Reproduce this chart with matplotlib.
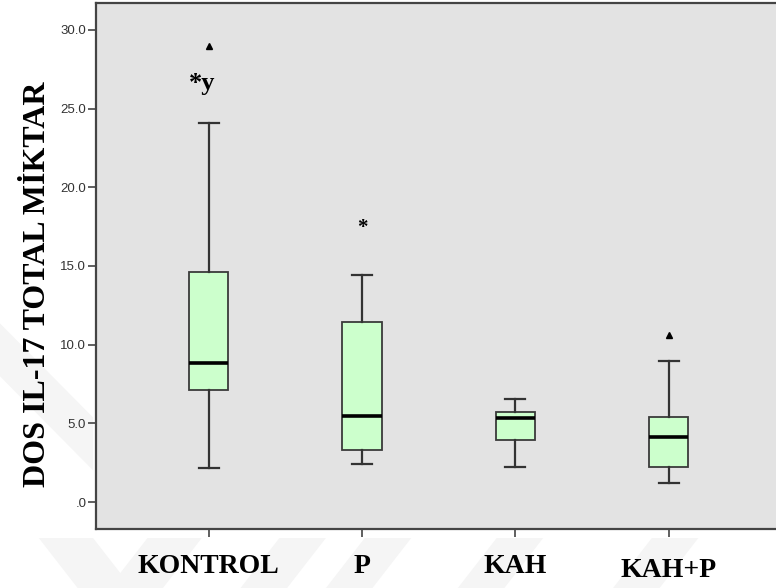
import matplotlib
matplotlib.use("Agg")
import matplotlib.pyplot as plt
from matplotlib.patches import Polygon

# ---- data ----
groups = ["KONTROL", "P", "KAH", "KAH+P"]
whisker_low = [2.2, 2.4, 2.25, 1.25]
q1 = [7.1, 3.3, 3.95, 2.25]
median = [8.85, 5.5, 5.35, 4.15]
q3 = [14.6, 11.45, 5.7, 5.4]
whisker_high = [24.1, 14.4, 6.55, 8.95]
outliers = [[28.95], [], [], [10.6]]
annotations = ["*y", "*", "", ""]
annotation_values = [26.6, 17.4, None, None]
yticks = [0, 5, 10, 15, 20, 25, 30]
ytick_labels = [".0", "5.0", "10.0", "15.0", "20.0", "25.0", "30.0"]
ylabel = "DOS IL-17 TOTAL MİKTAR"

fig = plt.figure(figsize=(7.76, 5.88), dpi=100)
fig.patch.set_facecolor("white")

# faint watermark stripes
wm = "#f5f5f5"
for pts in [
    [(0.00, 0.45), (0.00, 0.36), (0.12, 0.20), (0.12, 0.29)],
    [(0.05, 0.085), (0.12, 0.085), (0.17, 0.0), (0.10, 0.0)],
    [(0.19, 0.085), (0.26, 0.085), (0.21, 0.0), (0.14, 0.0)],
    [(0.36, 0.085), (0.42, 0.085), (0.37, 0.0), (0.31, 0.0)],
    [(0.47, 0.085), (0.53, 0.085), (0.48, 0.0), (0.42, 0.0)],
    [(0.64, 0.085), (0.70, 0.085), (0.65, 0.0), (0.59, 0.0)],
    [(0.84, 0.085), (0.90, 0.085), (0.85, 0.0), (0.79, 0.0)],
]:
    fig.add_artist(Polygon(pts, closed=True, transform=fig.transFigure,
                           facecolor=wm, edgecolor="none", zorder=0))

ax = fig.add_axes([96 / 776, 59 / 588, 1 - 96 / 776 + 0.01, 526 / 588])
ax.set_facecolor("#e3e3e3")

stats = []
for i, g in enumerate(groups):
    stats.append(dict(label=g, whislo=whisker_low[i], q1=q1[i], med=median[i],
                      q3=q3[i], whishi=whisker_high[i], fliers=outliers[i]))

positions = list(range(len(groups)))
ax.bxp(stats, positions=positions, widths=0.255, capwidths=0.13,
       patch_artist=True, showfliers=True,
       boxprops=dict(facecolor="#ccffcc", edgecolor="#3a3a3a", linewidth=1.3),
       medianprops=dict(color="black", linewidth=2.6),
       whiskerprops=dict(color="#333333", linewidth=1.6),
       capprops=dict(color="#333333", linewidth=1.6),
       flierprops=dict(marker="^", markerfacecolor="black", markeredgecolor="black",
                       markersize=4.5, linestyle="none"))

for i, (txt, v) in enumerate(zip(annotations, annotation_values)):
    if txt:
        size = 19 if len(txt) > 1 else 15
        ax.text(positions[i] - (0.04 if len(txt) > 1 else 0), v, txt,
                ha="center", va="center", fontsize=size,
                family="Liberation Serif", fontweight="bold", color="black")

ax.set_xlim(-0.734, 3.75)
ax.set_ylim(-1.7, 31.7)
ax.set_yticks(yticks)
ax.set_yticklabels(ytick_labels, family="Liberation Sans", fontsize=9.5, color="#333333")
ax.set_xticks(positions)
ax.set_xticklabels(groups, family="Liberation Serif", fontweight="bold", fontsize=20)
ax.tick_params(axis="y", length=6, width=1.2, color="#444444", pad=1)
ax.tick_params(axis="x", length=6, width=1.2, color="#444444", pad=12)
for lbl in ax.get_xticklabels():
    if lbl.get_text() == "KAH+P":
        lbl.set_y(-0.008)

for side in ["left", "bottom", "top"]:
    ax.spines[side].set_color("#444444")
    ax.spines[side].set_linewidth(1.6)
ax.spines["right"].set_visible(False)

fig.text(38 / 776, 1 - 284 / 588, ylabel, rotation=90, ha="center", va="center",
         family="Liberation Serif", fontweight="bold", fontsize=23)

fig.savefig("out.png", dpi=100)
